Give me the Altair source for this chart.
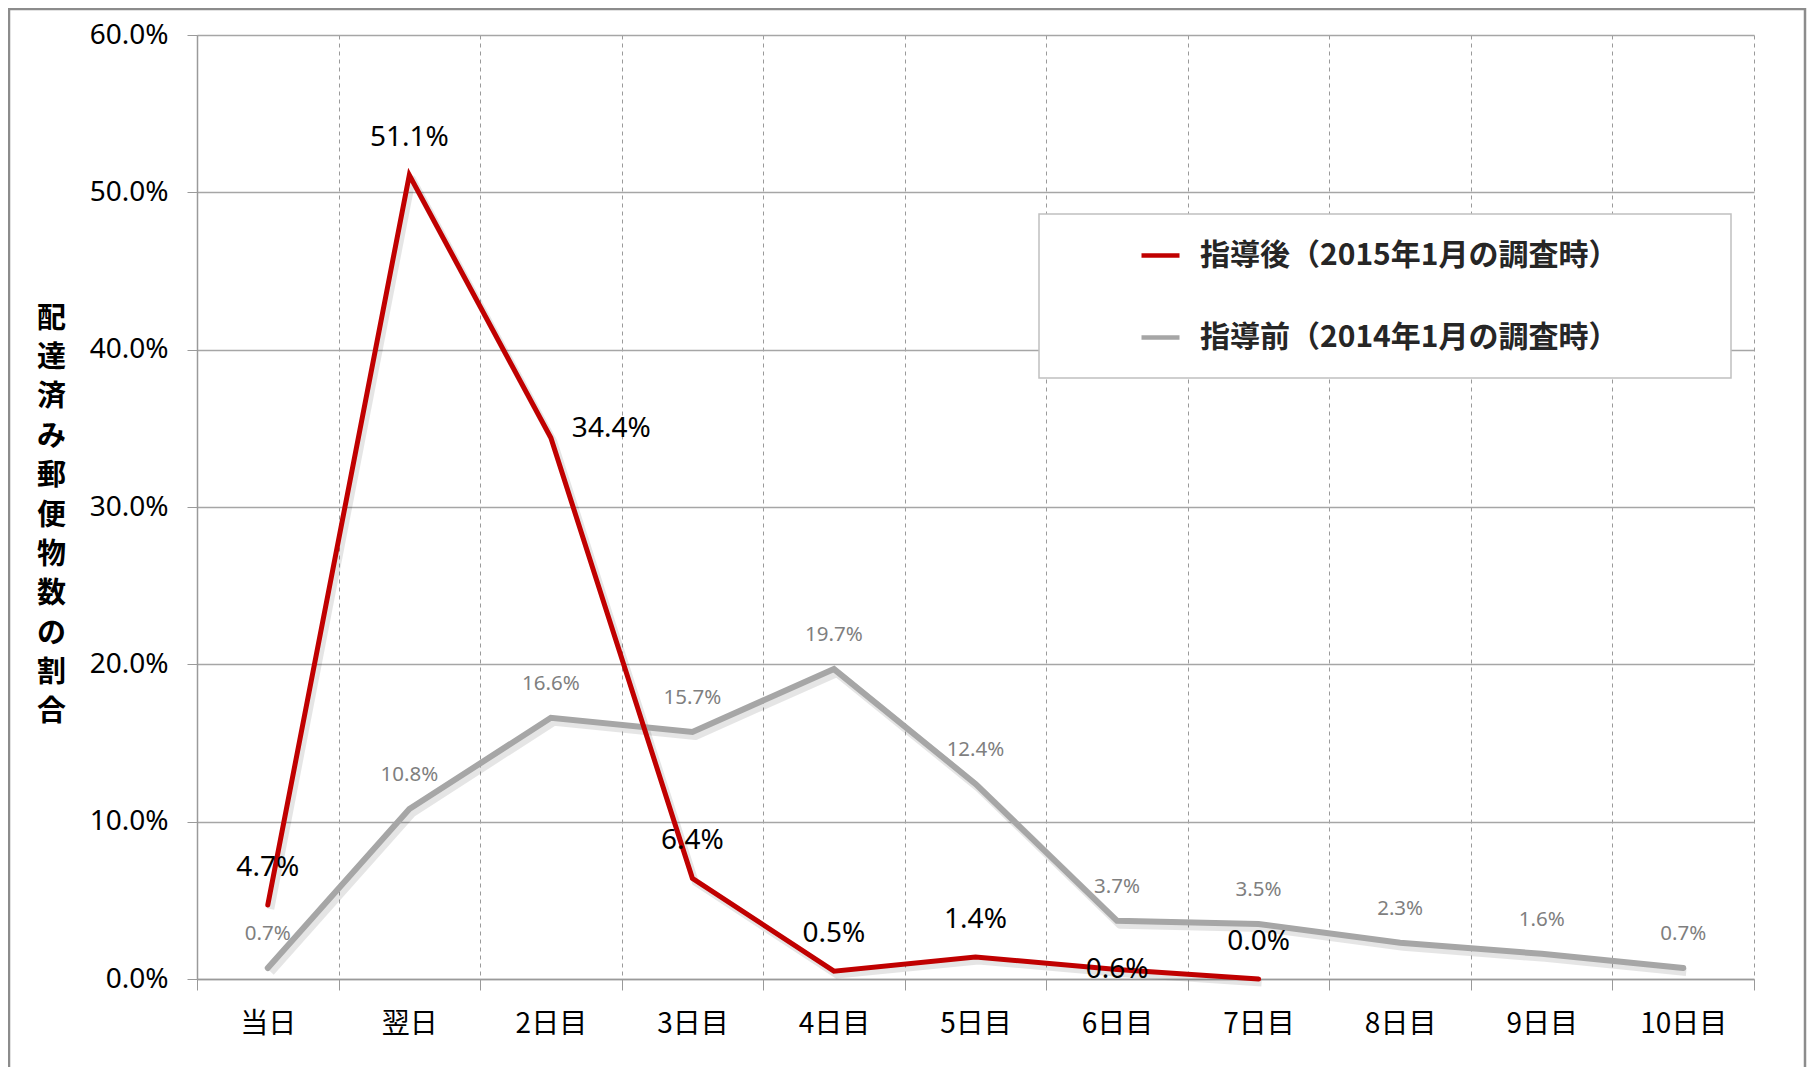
import altair as alt
import pandas as pd

days = ["当日", "翌日", "2日目", "3日目", "4日目", "5日目", "6日目", "7日目", "8日目", "9日目", "10日目"]
after_vals = [4.7, 51.1, 34.4, 6.4, 0.5, 1.4, 0.6, 0.0]
before_vals = [0.7, 10.8, 16.6, 15.7, 19.7, 12.4, 3.7, 3.5, 2.3, 1.6, 0.7]
series_after = "指導後（2015年1月の調査時）"
series_before = "指導前（2014年1月の調査時）"
series_names = [series_after, series_before]
series_colors = ["#C00000", "#A6A6A6"]
y_ticks = [0, 10, 20, 30, 40, 50, 60]
y_title = "配達済み郵便物数の割合"

rows = []
for d, v in zip(days, after_vals):
    rows.append({"day": d, "value": v, "series": series_after})
for d, v in zip(days, before_vals):
    rows.append({"day": d, "value": v, "series": series_before})
df = pd.DataFrame(rows)
df["label"] = df["value"].map(lambda v: f"{v:.1f}%")

W, H = 1557, 944

x_enc = alt.X(
    "day:N",
    sort=days,
    bandPosition=0.5,
    scale=alt.Scale(type="band", domain=days, paddingInner=0, paddingOuter=0),
    axis=alt.Axis(
        title=None,
        tickBand="extent",
        grid=True,
        gridDash=[4, 4],
        gridColor="#9a9a9a",
        gridWidth=1,
        domainColor="#9a9a9a",
        domainWidth=1.5,
        tickColor="#9a9a9a",
        tickSize=11,
        labelFont="Noto Sans CJK JP",
        labelFontSize=28,
        labelColor="#000000",
        labelPadding=20,
        labelAngle=0,
    ),
)
y_enc = alt.Y(
    "value:Q",
    scale=alt.Scale(domain=[0, 60], nice=False),
    axis=alt.Axis(
        values=y_ticks,
        labelExpr="format(datum.value, '.1f') + '%'",
        grid=True,
        gridColor="#a6a6a6",
        gridWidth=1.3,
        domainColor="#9a9a9a",
        domainWidth=1.5,
        tickColor="#9a9a9a",
        tickSize=10,
        labelFont="Noto Sans",
        labelFontSize=28,
        labelColor="#000000",
        labelPadding=19,
        title=list(y_title),
        titleAngle=0,
        titleX=-146,
        titleY=283,
        titleAlign="center",
        titleBaseline="middle",
        titleFont="Noto Sans CJK JP",
        titleFontSize=29,
        titleFontWeight="bold",
        titleColor="#000000",
        titleLineHeight=39.4,
    ),
)
color_enc = alt.Color(
    "series:N",
    scale=alt.Scale(domain=series_names, range=series_colors),
    legend=alt.Legend(
        title=None,
        orient="none",
        legendX=942,
        legendY=199,
        padding=0,
        symbolType="stroke",
        symbolSize=1444,
        symbolStrokeWidth=4.5,
        labelFont="Noto Sans CJK JP",
        labelFontSize=30,
        labelFontWeight="bold",
        labelColor="#262626",
        labelOffset=18,
        labelLimit=800,
        rowPadding=45,
    ),
)

base = alt.Chart(df)

frame = alt.Chart(pd.DataFrame({"k": [0]})).mark_rect(
    fill=None, stroke="#8c8c8c", strokeWidth=2.5
).encode(x=alt.value(-188), x2=alt.value(1608), y=alt.value(-26), y2=alt.value(1045))

legend_box = alt.Chart(pd.DataFrame({"k": [0]})).mark_rect(
    fill="#ffffff", stroke="#c0c0c0", strokeWidth=1.5
).encode(x=alt.value(842), x2=alt.value(1534), y=alt.value(179), y2=alt.value(343))

before_df = base.transform_filter(alt.datum.series == series_before)
after_df = base.transform_filter(alt.datum.series == series_after)

shadow_before = before_df.mark_line(
    strokeWidth=8, color="#000000", opacity=0.10, xOffset=3, yOffset=4, strokeJoin="round"
).encode(x=x_enc, y=y_enc)
shadow_after = after_df.mark_line(
    strokeWidth=7, color="#000000", opacity=0.10, xOffset=3, yOffset=4, strokeJoin="round"
).encode(x=x_enc, y=y_enc)

line_before = before_df.mark_line(strokeWidth=6, strokeCap="round").encode(
    x=x_enc, y=y_enc, color=color_enc
)
line_after = after_df.mark_line(strokeWidth=5, strokeCap="round").encode(
    x=x_enc, y=y_enc, color=color_enc
)

labels_before = before_df.mark_text(
    font="Noto Sans", fontSize=20.5, color="#7f7f7f", dy=-34, baseline="middle"
).encode(x=x_enc, y=y_enc, text="label:N")

labels_after_main = after_df.transform_filter(
    (alt.datum.day != "2日目") & (alt.datum.day != "6日目")
).mark_text(font="Noto Sans", fontSize=28, color="#000000", dy=-37, baseline="middle").encode(
    x=x_enc, y=y_enc, text="label:N"
)
labels_after_right = after_df.transform_filter(alt.datum.day == "2日目").mark_text(
    font="Noto Sans", fontSize=28, color="#000000", dx=21, dy=-9, align="left", baseline="middle"
).encode(x=x_enc, y=y_enc, text="label:N")
labels_after_center = after_df.transform_filter(alt.datum.day == "6日目").mark_text(
    font="Noto Sans", fontSize=28, color="#000000", dy=0, baseline="middle"
).encode(x=x_enc, y=y_enc, text="label:N")

chart = alt.layer(
    frame,
    legend_box,
    shadow_before,
    shadow_after,
    line_before,
    line_after,
    labels_before,
    labels_after_main,
    labels_after_right,
    labels_after_center,
).properties(
    width=W,
    height=H,
    background="#ffffff",
    autosize=alt.AutoSizeParams(type="none"),
    padding={"left": 189, "top": 27, "right": 53, "bottom": 88},
).configure_view(stroke=None)

chart.save("out.html", embed_options={"renderer": "svg", "actions": False})
